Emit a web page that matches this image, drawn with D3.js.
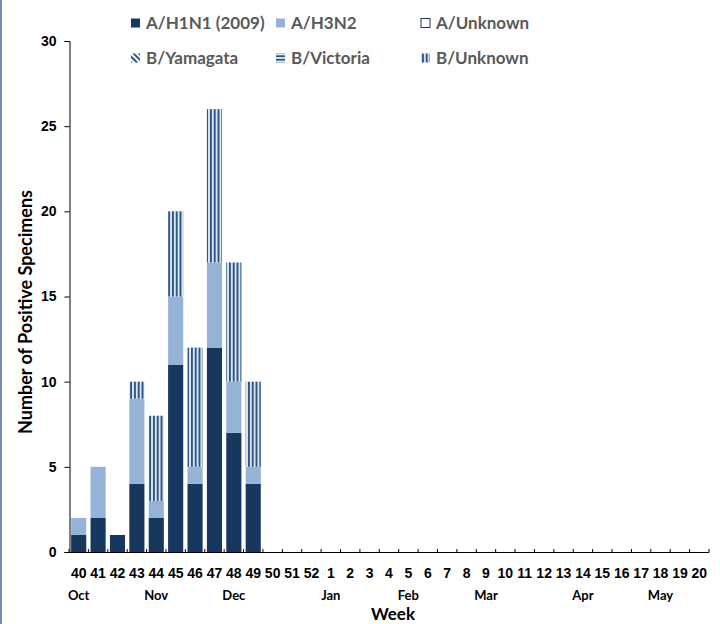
<!DOCTYPE html>
<html>
<head>
<meta charset="utf-8">
<script src="https://cdn.jsdelivr.net/npm/d3@7"></script>
<style>
  html, body { margin: 0; padding: 0; background: #fff; }
  svg { display: block; font-family: Lato, "Open Sans", sans-serif; }
</style>
</head>
<body>
<div class="chart"></div>
<script>
const weeks = ["40","41","42","43","44","45","46","47","48","49","50","51","52",
  "1","2","3","4","5","6","7","8","9","10","11","12","13","14","15","16","17","18","19","20"];
const h1n1     = [1, 2, 1, 4, 2, 11, 4, 12, 7, 4, 0,0,0, 0,0,0,0,0,0,0,0,0,0,0,0,0,0,0,0,0,0,0,0];
const h3n2     = [1, 3, 0, 5, 1, 4, 1, 5, 3, 1, 0,0,0, 0,0,0,0,0,0,0,0,0,0,0,0,0,0,0,0,0,0,0,0];
const aUnknown = [0, 0, 0, 0, 0, 0, 0, 0, 0, 0, 0,0,0, 0,0,0,0,0,0,0,0,0,0,0,0,0,0,0,0,0,0,0,0];
const yamagata = [0, 0, 0, 0, 0, 0, 0, 0, 0, 0, 0,0,0, 0,0,0,0,0,0,0,0,0,0,0,0,0,0,0,0,0,0,0,0];
const victoria = [0, 0, 0, 0, 0, 0, 0, 0, 0, 0, 0,0,0, 0,0,0,0,0,0,0,0,0,0,0,0,0,0,0,0,0,0,0,0];
const bUnknown = [0, 0, 0, 1, 5, 5, 7, 9, 7, 5, 0,0,0, 0,0,0,0,0,0,0,0,0,0,0,0,0,0,0,0,0,0,0,0];
const months = [
  { label: "Oct", week: "40" }, { label: "Nov", week: "44" }, { label: "Dec", week: "48" },
  { label: "Jan", week: "1" }, { label: "Feb", week: "5" }, { label: "Mar", week: "9" },
  { label: "Apr", week: "14" }, { label: "May", week: "18" }
];
const yTicks = [0, 5, 10, 15, 20, 25, 30];

const width = 720, height = 624;
const plotLeft = 69, plotRight = 709, plotTop = 41, plotBottom = 552;

const svg = d3.select(".chart").append("svg")
  .attr("width", width).attr("height", height);

// patterns
const defs = svg.append("defs");
const stripe = "#2a5689";
const pUnk = defs.append("pattern").attr("id", "bunk")
  .attr("patternUnits", "userSpaceOnUse").attr("width", 3.8).attr("height", 10);
pUnk.append("rect").attr("width", 3.8).attr("height", 10).attr("fill", "#fff");
pUnk.append("rect").attr("x", 0.8).attr("width", 2.2).attr("height", 10).attr("fill", stripe);

const pVic = defs.append("pattern").attr("id", "bvic")
  .attr("patternUnits", "userSpaceOnUse").attr("width", 10).attr("height", 3.5);
pVic.append("rect").attr("width", 10).attr("height", 3.5).attr("fill", "#fff");
pVic.append("rect").attr("y", 0.7).attr("width", 10).attr("height", 2).attr("fill", stripe);

const pYam = defs.append("pattern").attr("id", "byam")
  .attr("patternUnits", "userSpaceOnUse").attr("width", 4).attr("height", 4)
  .attr("patternTransform", "rotate(-45)");
pYam.append("rect").attr("width", 4).attr("height", 4).attr("fill", "#fff");
pYam.append("rect").attr("width", 2).attr("height", 4).attr("fill", stripe);

// left frame line
svg.append("rect").attr("x", 0).attr("y", 0).attr("width", 2).attr("height", height)
  .attr("fill", "#7392b2");

const keys = ["h1n1", "h3n2", "aUnknown", "yamagata", "victoria", "bUnknown"];
const fills = {
  h1n1: "#17375e", h3n2: "#95b3d7", aUnknown: "#fff",
  yamagata: "url(#byam)", victoria: "url(#bvic)", bUnknown: "url(#bunk)"
};
const table = weeks.map((w, i) => ({
  week: w, h1n1: h1n1[i], h3n2: h3n2[i], aUnknown: aUnknown[i],
  yamagata: yamagata[i], victoria: victoria[i], bUnknown: bUnknown[i]
}));

const x = d3.scaleBand().domain(weeks).range([plotLeft, plotRight])
  .paddingInner(0.22).paddingOuter(0.11);
const y = d3.scaleLinear().domain([0, 30]).range([plotBottom, plotTop]);

const series = d3.stack().keys(keys)(table);

svg.append("g").selectAll("g")
  .data(series)
  .join("g")
  .attr("fill", d => fills[d.key])
  .selectAll("rect")
  .data(d => d.filter(p => p[1] - p[0] > 0))
  .join("rect")
  .attr("x", d => x(d.data.week))
  .attr("y", d => y(d[1]))
  .attr("width", x.bandwidth())
  .attr("height", d => y(d[0]) - y(d[1]));

// y axis
const yAxis = svg.append("g")
  .attr("transform", `translate(${plotLeft + 0.5},0)`)
  .call(d3.axisLeft(y).tickValues(yTicks).tickSize(5).tickPadding(8).tickSizeOuter(5));
yAxis.select(".domain").attr("stroke", "#000");
yAxis.selectAll("text").attr("font-size", 14).attr("font-weight", "bold").attr("fill", "#000");

// x axis
const xAxis = svg.append("g")
  .attr("transform", `translate(0,${plotBottom + 0.5})`)
  .call(d3.axisBottom(x).tickSize(0).tickPadding(16));
xAxis.select(".domain").attr("stroke", "#000").attr("d", `M${plotLeft},0H${plotRight}`);
xAxis.selectAll("text").attr("font-size", 14).attr("font-weight", "bold").attr("fill", "#000");

const step = x.step();
const bounds = weeks.map(w => x(w) - step * x.paddingInner() / 2).concat([plotRight]);
svg.append("g").selectAll("line")
  .data(bounds)
  .join("line")
  .attr("x1", d => d).attr("x2", d => d)
  .attr("y1", plotBottom + 0.5).attr("y2", plotBottom - 3)
  .attr("stroke", "#000");

// month labels
svg.append("g").selectAll("text")
  .data(months)
  .join("text")
  .attr("x", d => x(d.week) + x.bandwidth() / 2)
  .attr("y", 600)
  .attr("text-anchor", "middle")
  .attr("font-size", 13).attr("font-weight", "bold")
  .text(d => d.label);

// axis titles
svg.append("text")
  .attr("x", 393).attr("y", 620)
  .attr("text-anchor", "middle")
  .attr("font-size", 17).attr("font-weight", "bold")
  .text("Week");

svg.append("text")
  .attr("transform", "translate(32,312) rotate(-90)")
  .attr("text-anchor", "middle")
  .attr("font-size", 18).attr("font-weight", "bold")
  .text("Number of Positive Specimens");

// legend
const legendItems = [
  { label: "A/H1N1 (2009)", key: "h1n1", x: 131, y: 23 },
  { label: "A/H3N2", key: "h3n2", x: 276, y: 23 },
  { label: "A/Unknown", key: "aUnknown", x: 421, y: 23 },
  { label: "B/Yamagata", key: "yamagata", x: 131, y: 58 },
  { label: "B/Victoria", key: "victoria", x: 276, y: 58 },
  { label: "B/Unknown", key: "bUnknown", x: 421, y: 58 }
];
const lg = svg.append("g").selectAll("g")
  .data(legendItems)
  .join("g")
  .attr("transform", d => `translate(${d.x},${d.y})`);
lg.append("rect")
  .attr("x", 0).attr("y", -4.5).attr("width", 9).attr("height", 9)
  .attr("fill", d => fills[d.key])
  .attr("stroke", d => d.key === "aUnknown" ? "#17375e" : "none")
  .attr("stroke-width", 1);
lg.append("text")
  .attr("x", 15).attr("y", 0).attr("dy", "0.36em")
  .attr("font-size", 17).attr("font-weight", "bold")
  .attr("fill", "#595959")
  .text(d => d.label);
</script>
</body>
</html>
